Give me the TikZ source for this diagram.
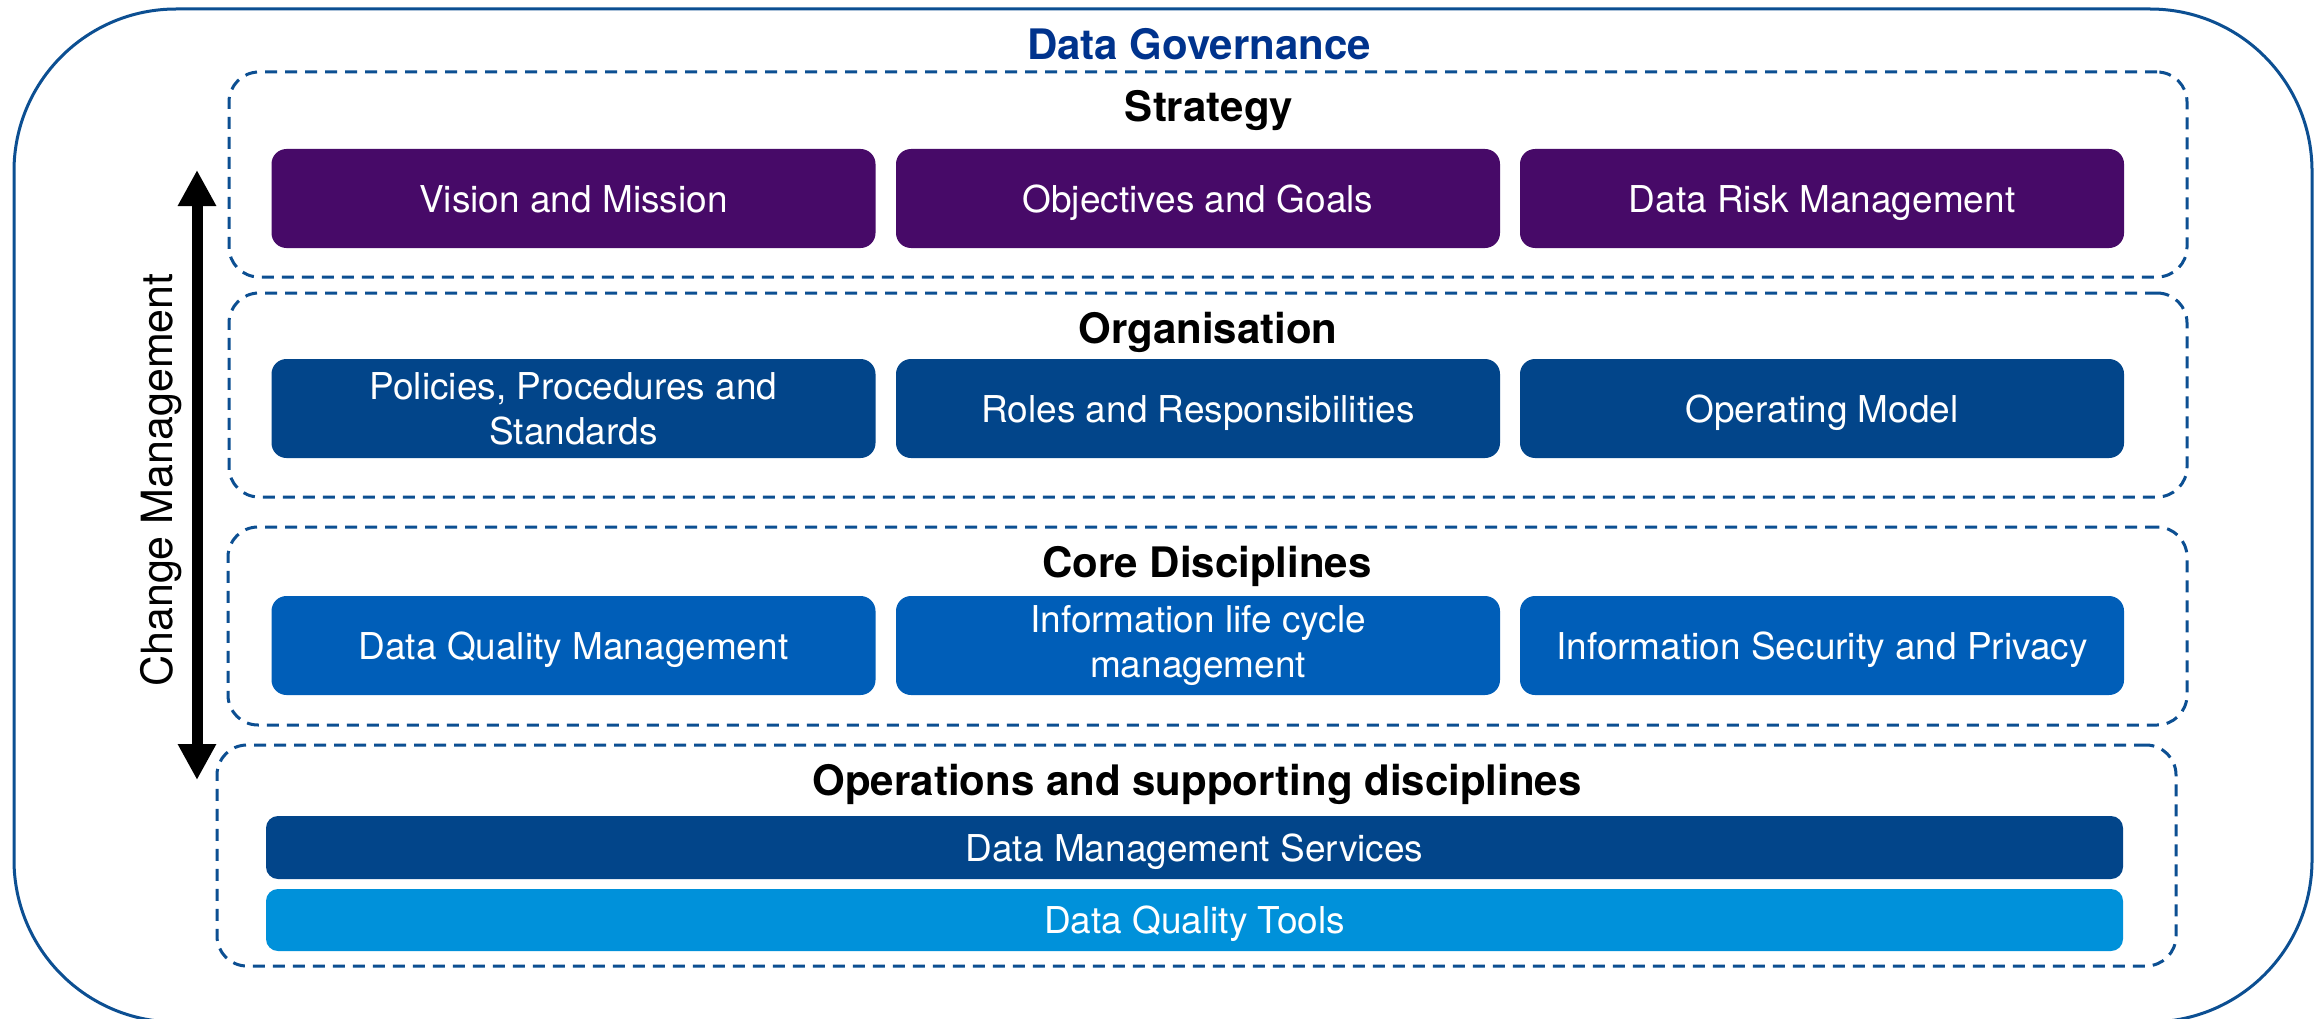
\documentclass[tikz,border=0pt]{standalone}
\usepackage{fontspec}
\setmainfont{TeX Gyre Heros}
\usetikzlibrary{arrows.meta}
\definecolor{kblue}{HTML}{00338D}
\definecolor{kline}{HTML}{0C4F92}
\definecolor{kpurple}{HTML}{470A68}
\definecolor{korg}{HTML}{02458A}
\definecolor{kcore}{HTML}{005EB8}
\definecolor{klight}{HTML}{0091DA}
\begin{document}
\begin{tikzpicture}[x=1pt,y=-1pt,
  gov/.style={draw=kline, line width=3pt, rounded corners=162pt, inner sep=0pt},
  layer/.style={draw=kline, line width=3pt, dash pattern=on 12pt off 8pt, rounded corners=30pt, inner sep=0pt},
  tile/.style={rounded corners=15pt, text=white, font=\fontsize{37}{45}\selectfont, align=center, inner sep=0pt, minimum height=99pt, minimum width=604pt},
  oneline/.style={text height=27pt, text depth=0pt},
  bar/.style={rounded corners=12pt, text=white, font=\fontsize{37}{45}\selectfont, align=center, inner sep=0pt, minimum width=1857pt, text height=27pt, text depth=0pt},
  heading/.style={font=\fontsize{42}{50}\selectfont\bfseries, anchor=base, inner sep=0pt},
  twoway/.style={line width=11pt, {Triangle[width=36pt,length=36pt]}-{Triangle[width=36pt,length=36pt]}}
]
\clip (0,0) rectangle (2314,1019);
\fill[white] (0,0) rectangle (2314,1019);

% outer frame
\node[gov, minimum width=2298pt, minimum height=1013pt] (dg) at (1163,515.5) {};
\node[heading, text=kblue] (title) at (1199,60) {Data Governance};

% layers
\node[layer, minimum width=1958pt, minimum height=205pt] (strategy) at (1208,174.5) {};
\node[layer, minimum width=1958pt, minimum height=204pt] (organisation) at (1208,395) {};
\node[layer, minimum width=1959pt, minimum height=198pt] (core) at (1207.5,626) {};
\node[layer, minimum width=1959pt, minimum height=221pt] (ops) at (1196.5,855.5) {};

\node[heading] (strategyT) at (1209,122) {Strategy};
\node[heading] (organisationT) at (1208,343) {Organisation};
\node[heading] (coreT) at (1207,577) {Core Disciplines};
\node[heading] (opsT) at (1197,795) {Operations and supporting disciplines};

% strategy tiles
\node[tile, oneline, fill=kpurple] (vision) at (573.5,198.5) {Vision and Mission};
\node[tile, oneline, fill=kpurple] (objectives) at (1198,198.5) {Objectives and Goals};
\node[tile, oneline, fill=kpurple] (risk) at (1822,198.5) {Data Risk Management};

% organisation tiles
\node[tile, fill=korg] (policies) at (573.5,408.5) {Policies, Procedures and\\Standards};
\node[tile, oneline, fill=korg] (roles) at (1198,408.5) {Roles and Responsibilities};
\node[tile, oneline, fill=korg] (opmodel) at (1822,408.5) {Operating Model};

% core tiles
\node[tile, oneline, fill=kcore] (dqm) at (573.5,645.5) {Data Quality Management};
\node[tile, fill=kcore] (ilm) at (1198,645.5) {Information life cycle\\management};
\node[tile, oneline, fill=kcore] (isp) at (1822,645.5) {Information Security and Privacy};

% operations bars
\node[bar, fill=korg, minimum height=63pt] (dms) at (1194.5,847.5) {Data Management Services};
\node[bar, fill=klight, minimum height=62pt] (dqt) at (1194.5,920) {Data Quality Tools};

% change management arrow
\coordinate (atop) at (197,170);
\coordinate (abot) at (197,780);
\draw[twoway] (atop) -- (abot);
\node[rotate=90, anchor=base, font=\fontsize{43}{50}\selectfont, inner sep=0pt] (cm) at (172,480) {Change Management};
\end{tikzpicture}
\end{document}
